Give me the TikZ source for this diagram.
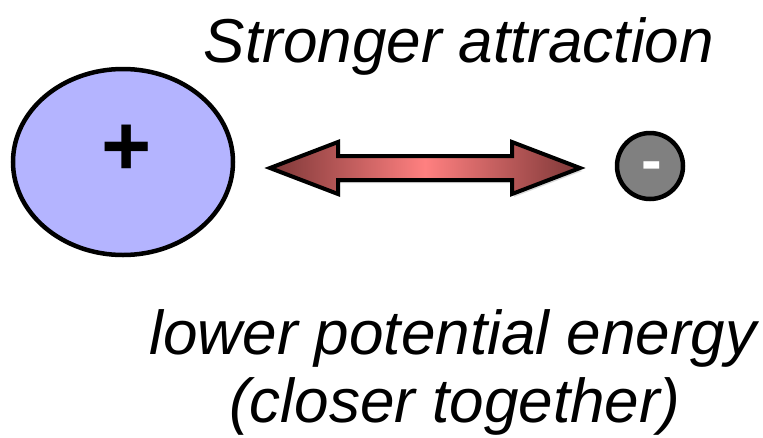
\documentclass[tikz,border=0pt]{standalone}
\usepackage{fontspec}
\setmainfont{Liberation Sans}
\usetikzlibrary{shapes.geometric}
\definecolor{ionblue}{RGB}{180,180,255}
\definecolor{iongrey}{RGB}{128,128,128}
\definecolor{arrdark}{RGB}{125,55,55}
\definecolor{arrlight}{RGB}{255,128,128}
\tikzset{
  label text/.style={font=\fontsize{62}{72}\selectfont\itshape, anchor=base, inner sep=0pt},
  ion/.style={draw=black, line width=4.5pt, inner sep=0pt},
}
\begin{document}
\begin{tikzpicture}[x=1pt,y=-1pt]
\useasboundingbox (0,0) rectangle (763,437);
\node[ion, ellipse, fill=ionblue, minimum width=220pt, minimum height=186pt] (cat) at (123,162) {};
\node[font=\fontsize{86}{90}\selectfont\bfseries, inner sep=0pt] (plus) at (127,150) {+};
\node[ion, circle, fill=iongrey, minimum size=66pt] (an) at (650,166) {};
\node[font=\fontsize{62}{70}\selectfont\bfseries, text=white, inner sep=0pt] (minus) at (652,172) {-};
% shadow
\fill[black!15] (272,171) -- (340,145) -- (340,159) -- (514,159) -- (514,145) -- (582,171) -- (514,197) -- (514,183) -- (340,183) -- (340,197) -- cycle;
\draw[line width=4pt, line join=miter, left color=arrdark, right color=arrdark, middle color=arrlight]
  (270,168) -- (338,142) -- (338,156) -- (512,156) -- (512,142) -- (580,168) -- (512,194) -- (512,180) -- (338,180) -- (338,194) -- cycle;
\node[label text] (top) at (459,62) {Stronger attraction};
\node[label text] (low1) at (453,354) {lower potential energy};
\node[label text] (low2) at (455,422) {(closer together)};
\end{tikzpicture}
\end{document}
